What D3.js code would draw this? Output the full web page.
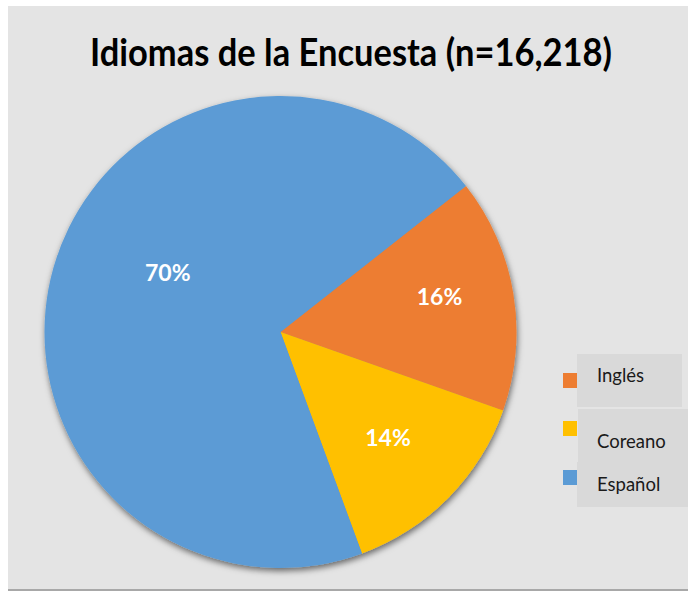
<!DOCTYPE html>
<html>
<head>
<meta charset="utf-8">
<script src="https://cdn.jsdelivr.net/npm/d3@7/dist/d3.min.js"></script>
<style>
  html, body { margin: 0; padding: 0; background: #ffffff; }
  svg { display: block; }
</style>
</head>
<body>
<script>
// Survey languages, share of respondents (%)
const categories = ["Inglés", "Coreano", "Español"];
const values = [16, 14, 70];
const colors = ["#ed7d31", "#ffc000", "#5b9bd5"];
const title = "Idiomas de la Encuesta (n=16,218)";

const W = 688, H = 591;
const svg = d3.select("body").append("svg").attr("width", W).attr("height", H);

const defs = svg.append("defs");
const shadow = defs.append("filter").attr("id", "pieShadow")
  .attr("x", "-10%").attr("y", "-10%").attr("width", "120%").attr("height", "125%");
shadow.append("feDropShadow")
  .attr("dx", 1).attr("dy", 3).attr("stdDeviation", 3)
  .attr("flood-color", "#000").attr("flood-opacity", 0.55);

// chart panel
svg.append("rect").attr("x", 8).attr("y", 6).attr("width", 680).attr("height", 583).attr("fill", "#e4e4e4");
svg.append("rect").attr("x", 8).attr("y", 589).attr("width", 680).attr("height", 2).attr("fill", "#a8a8a8");

// title
svg.append("text")
  .attr("x", 351).attr("y", 66)
  .attr("text-anchor", "middle")
  .attr("font-family", "Lato, 'Open Sans', sans-serif")
  .attr("font-weight", "bold")
  .attr("font-size", 38)
  .attr("textLength", 522)
  .attr("lengthAdjust", "spacingAndGlyphs")
  .attr("fill", "#000")
  .text(title);

// pie
const cx = 280.5, cy = 332, R = 236;
const start = 51.8 * Math.PI / 180;
const pie = d3.pie().sort(null).value(d => d.value)
  .startAngle(start).endAngle(start + 2 * Math.PI);
const data = categories.map((c, i) => ({ name: c, value: values[i], color: colors[i] }));
const arcs = pie(data);
const arc = d3.arc().innerRadius(0).outerRadius(R);

const g = svg.append("g").attr("transform", `translate(${cx},${cy})`);
g.append("g").attr("filter", "url(#pieShadow)")
  .selectAll("path").data(arcs).join("path")
  .attr("d", arc)
  .attr("fill", d => d.data.color);

// percentage labels (radius factor and angle nudge per slice)
const labelPlace = { "Inglés": { k: 0.69, da: -3 }, "Coreano": { k: 0.64, da: 0 }, "Español": { k: 0.54, da: 12 } };
g.selectAll("text.pct").data(arcs).join("text")
  .attr("class", "pct")
  .each(function (d) {
    const p = labelPlace[d.data.name];
    const a = (d.startAngle + d.endAngle) / 2 + p.da * Math.PI / 180;
    const r = R * p.k;
    d3.select(this)
      .attr("x", r * Math.sin(a))
      .attr("y", -r * Math.cos(a) + 8);
  })
  .attr("text-anchor", "middle")
  .attr("font-family", "Lato, 'Open Sans', sans-serif")
  .attr("font-weight", "bold")
  .attr("font-size", 23)
  .attr("fill", "#ffffff")
  .text(d => d.data.value + "%");

// legend
const legendBoxes = [
  { x: 577, y: 354, w: 105, h: 53 },
  { x: 578, y: 409, w: 110, h: 53 },
  { x: 577, y: 462, w: 111, h: 45 }
];
const legendRows = [380, 428, 477];
const legendText = [382, 448, 491];
const lg = svg.append("g");
lg.selectAll("rect.box").data(legendBoxes).join("rect")
  .attr("class", "box")
  .attr("x", d => d.x).attr("y", d => d.y)
  .attr("width", d => d.w).attr("height", d => d.h)
  .attr("fill", "#d9d9d9");
lg.selectAll("rect.key").data(data).join("rect")
  .attr("class", "key")
  .attr("x", 563).attr("y", (d, i) => legendRows[i] - 7)
  .attr("width", 14).attr("height", 15)
  .attr("fill", d => d.color);
lg.selectAll("text").data(data).join("text")
  .attr("x", 597).attr("y", (d, i) => legendText[i])
  .attr("font-family", "Lato, 'Open Sans', sans-serif")
  .attr("font-size", 18.5)
  .attr("fill", "#1a1a1a")
  .text(d => d.name);
</script>
</body>
</html>
